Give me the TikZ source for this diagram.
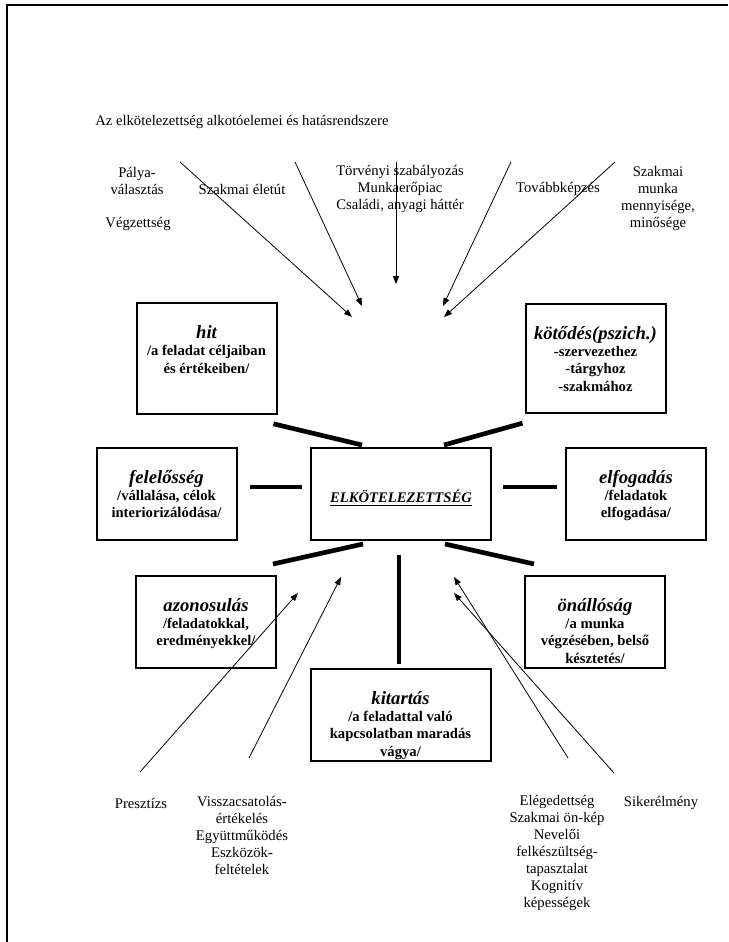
\documentclass[tikz,border=0pt]{standalone}
\usepackage{fontspec}
\setmainfont{Liberation Serif}
\usetikzlibrary{calc,arrows.meta}

\newcommand{\boxhead}[1]{{\fontsize{14}{16}\selectfont\bfseries\itshape\strut #1}}

\begin{document}
\begin{tikzpicture}[x=0.75pt,y=-0.75pt,
    every node/.style={font=\fontsize{11}{12.75}\selectfont,align=center,inner sep=0pt},
    elembox/.style={rectangle,draw,line width=1.5pt,minimum width=105pt,minimum height=69pt},
    elemtext/.style={anchor=north,font=\bfseries\fontsize{11}{13}\selectfont},
    bond/.style={line width=3.5pt},
    feed/.style={line width=0.6pt,-{Triangle[length=6pt,width=4.5pt]}}]
  \useasboundingbox (0,0) rectangle (728,942);
  \draw[line width=0.9pt] (7,942) -- (7,5) -- (728,5);

  \node[anchor=west] (title) at (95,122) {Az elkötelezettség alkotóelemei és hatásrendszere};

  % factors above
  \node (palya) at (137,181) {Pálya-\\választás};
  \node (vegz) at (138,224) {Végzettség};
  \node (eletut) at (242,189) {Szakmai életút};
  \node (torv) at (400,189) {Törvényi szabályozás\\Munkaerőpiac\\Családi, anyagi háttér};
  \node (tovabb) at (558,189) {Továbbképzés};
  \node (munka) at (658,198) {Szakmai\\munka\\mennyisége,\\minősége};

  % components of commitment
  \node[elembox,minimum height=83pt] (hit) at (206.5,358.5) {};
  \node[elembox,minimum height=82pt] (kotodes) at (595.5,358.5) {};
  \node[elembox] (feleloss) at (166.5,494) {};
  \node[elembox,minimum width=135pt] (elkot) at (401,494) {};
  \node[elembox] (elfog) at (636,494) {};
  \node[elembox] (azon) at (206,622) {};
  \node[elembox] (onall) at (595,622) {};
  \node[elembox,minimum width=135pt] (kitart) at (400.5,715) {};

  \node[elemtext] (hit-t) at ($(hit.north)+(0,21)$) {\boxhead{hit}\\/a feladat céljaiban\\és értékeiben/};
  \node[elemtext] (kotodes-t) at ($(kotodes.north)+(0,21)$) {\boxhead{kötődés(pszich.)}\\-szervezethez\\-tárgyhoz\\-szakmához};
  \node[elemtext] (feleloss-t) at ($(feleloss.north)+(0,21)$) {\boxhead{felelősség}\\/vállalása, célok\\interiorizálódása/};
  \node[font=\bfseries\itshape\fontsize{11}{13}\selectfont] (elkot-t) at ($(elkot.center)+(0,4)$) {\underline{ELKÖTELEZETTSÉG}};
  \node[elemtext] (elfog-t) at ($(elfog.north)+(0,21)$) {\boxhead{elfogadás}\\/feladatok\\elfogadása/};
  \node[elemtext] (azon-t) at ($(azon.north)+(0,21)$) {\boxhead{azonosulás}\\/feladatokkal,\\eredményekkel/};
  \node[elemtext] (onall-t) at ($(onall.north)+(0,21)$) {\boxhead{önállóság}\\/a munka\\végzésében, belső\\késztetés/};
  \node[elemtext] (kitart-t) at ($(kitart.north)+(0,21)$) {\boxhead{kitartás}\\/a feladattal való\\kapcsolatban maradás\\vágya/};

  \draw[bond] ($(hit.south east)+(-4,9)$) -- ($(elkot.north west)+(52,-2)$);
  \draw[bond] ($(kotodes.south west)+(-2,9)$) -- ($(elkot.north east)+(-48,-2)$);
  \draw[bond] ($(feleloss.east)+(12,-7)$) -- ($(elkot.west)+(-8,-7)$);
  \draw[bond] ($(elkot.east)+(11,-7)$) -- ($(elfog.west)+(-8,-7)$);
  \draw[bond] ($(elkot.south west)+(53,3)$) -- ($(azon.north east)+(-4,-11)$);
  \draw[bond] ($(elkot.south east)+(-47,3)$) -- ($(onall.north west)+(10,-11)$);
  \draw[bond] ($(elkot.south)+(-2,14)$) -- ($(kitart.north)+(-1.5,-4)$);

  % factors below
  \node (presz) at (141,803) {Presztízs};
  \node[anchor=north] (vissza) at (242,796) {Visszacsatolás-\\értékelés\\Együttműködés\\Eszközök-\\feltételek};
  \node[anchor=north] (eleg) at (557,795) {Elégedettség\\Szakmai ön-kép\\Nevelői\\felkészültség-\\tapasztalat\\Kognitív\\képességek};
  \node (siker) at (661,803) {Sikerélmény};

  \coordinate (palya-from) at (180,162);  \coordinate (palya-to) at (352,317);
  \coordinate (eletut-from) at (295,162); \coordinate (eletut-to) at (362,306);
  \coordinate (torv-from) at (396,162);   \coordinate (torv-to) at (396,284);
  \coordinate (tovabb-from) at (511,162); \coordinate (tovabb-to) at (443,306);
  \coordinate (munka-from) at (615,162);  \coordinate (munka-to) at (444,317);
  \coordinate (presz-from) at (140,772);  \coordinate (presz-to) at (298,593);
  \coordinate (vissza-from) at (249,758); \coordinate (vissza-to) at (341,577);
  \coordinate (eleg-from) at (568,758);   \coordinate (eleg-to) at (454,577);
  \coordinate (siker-from) at (614,773);  \coordinate (siker-to) at (454,593);

  \foreach \f in {palya,eletut,torv,tovabb,munka,presz,vissza,eleg,siker}
    \draw[feed] (\f-from) -- (\f-to);
\end{tikzpicture}
\end{document}
